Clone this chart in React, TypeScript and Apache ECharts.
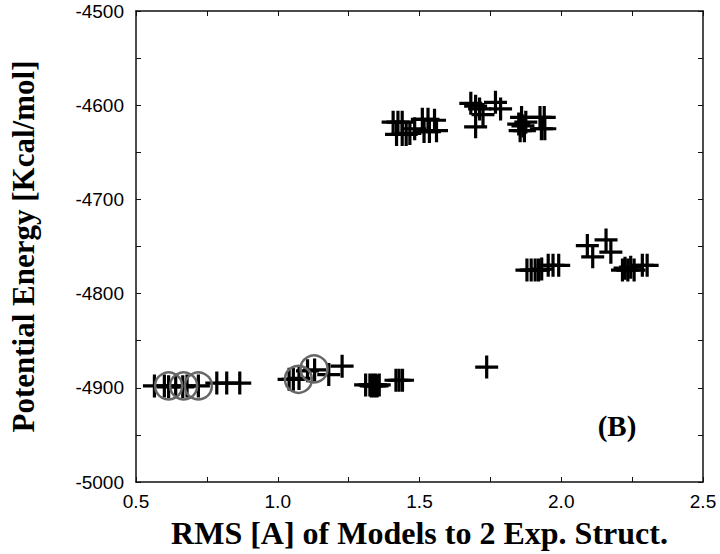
import React, { useEffect, useRef } from "react";
import * as echarts from "echarts";

// Clusters of models: [RMS, Potential Energy]
const clusterA: number[][] = [
  [0.565, -4898], [0.6, -4898], [0.615, -4899], [0.64, -4898], [0.665, -4899],
  [0.68, -4898], [0.72, -4898], [0.785, -4895], [0.82, -4895], [0.866, -4895],
];
const clusterB: number[][] = [
  [1.04, -4891], [1.055, -4891], [1.075, -4890], [1.105, -4882], [1.13, -4881],
  [1.18, -4886], [1.227, -4877],
];
const clusterC: number[][] = [
  [1.31, -4897], [1.325, -4897], [1.33, -4898], [1.335, -4897], [1.34, -4898],
  [1.345, -4897], [1.35, -4898], [1.358, -4897],
];
const clusterD: number[][] = [[1.417, -4892], [1.428, -4892], [1.44, -4892]];
const isolated: number[][] = [[1.737, -4878]];
const clusterE: number[][] = [
  [1.407, -4618], [1.424, -4618], [1.439, -4618], [1.419, -4631], [1.439, -4631],
  [1.453, -4631], [1.466, -4630], [1.483, -4625],
  [1.51, -4615], [1.53, -4615], [1.553, -4616], [1.516, -4628], [1.535, -4628], [1.56, -4627],
];
const clusterF: number[][] = [
  [1.681, -4598], [1.698, -4601], [1.712, -4604], [1.724, -4610], [1.698, -4623],
  [1.768, -4597], [1.786, -4604],
];
const clusterG: number[][] = [
  [1.85, -4620], [1.855, -4627], [1.86, -4613], [1.865, -4622], [1.87, -4627],
  [1.875, -4618], [1.925, -4613], [1.93, -4625], [1.94, -4613], [1.942, -4625],
];
const clusterH: number[][] = [
  [1.879, -4775], [1.894, -4775], [1.908, -4775], [1.92, -4775], [1.931, -4774],
  [1.954, -4770], [1.971, -4770], [1.991, -4770],
];
const clusterI: number[][] = [
  [2.092, -4749], [2.111, -4761], [2.158, -4743], [2.175, -4756],
];
const clusterJ: number[][] = [
  [2.216, -4775], [2.225, -4773], [2.235, -4775], [2.245, -4772], [2.257, -4775],
  [2.286, -4770], [2.303, -4770],
];
const circled: number[][] = [
  [0.615, -4898], [0.668, -4898], [0.72, -4898], [1.073, -4891], [1.128, -4880],
];

const xMin = 0.5, xMax = 2.5, xStep = 0.5;
const yMin = -5000, yMax = -4500, yStep = 100;

const crossPath = "path://M10,0L10,20M0,10L20,10";

export default function App() {
  const ref = useRef<HTMLDivElement>(null);
  useEffect(() => {
    if (!ref.current) return;
    const chart = echarts.init(ref.current, undefined, { renderer: "svg" });
    const axisLine = { lineStyle: { color: "#111", width: 1.5 } };
    const tick = { inside: true, length: 5, lineStyle: { color: "#111", width: 1 } };
    const minor = { show: true, splitNumber: 2, length: 5, lineStyle: { color: "#111", width: 1 } };
    const labelStyle = { fontSize: 19, fontFamily: "Liberation Sans", color: "#000" };
    const titleStyle = { fontFamily: "Liberation Serif", fontWeight: "bold" as const, color: "#000" };
    const crosses = [
      ...clusterA, ...clusterB, ...clusterC, ...clusterD, ...isolated,
      ...clusterE, ...clusterF, ...clusterG, ...clusterH, ...clusterI, ...clusterJ,
    ];
    chart.setOption({
      animation: false,
      backgroundColor: "#fff",
      grid: { left: 130, right: 17, top: 11, bottom: 61 },
      xAxis: [
        {
          type: "value", min: xMin, max: xMax, interval: xStep, position: "bottom",
          axisLine: { ...axisLine, onZero: false }, axisTick: tick, minorTick: minor,
          splitLine: { show: false },
          axisLabel: { ...labelStyle, margin: 10, formatter: (v: number) => v.toFixed(1) },
          name: "RMS [A] of Models to 2 Exp. Struct.", nameLocation: "middle", nameGap: 35,
          nameTextStyle: { ...titleStyle, fontSize: 32 },
        },
        {
          type: "value", min: xMin, max: xMax, interval: xStep, position: "top",
          axisLine: { ...axisLine, onZero: false }, axisTick: tick, minorTick: minor,
          splitLine: { show: false }, axisLabel: { show: false },
        },
      ],
      yAxis: [
        {
          type: "value", min: yMin, max: yMax, interval: yStep, position: "left",
          axisLine: { ...axisLine, onZero: false }, axisTick: tick, minorTick: minor,
          splitLine: { show: false },
          axisLabel: { ...labelStyle, margin: 12, formatter: (v: number) => String(v) },
          name: "Potential Energy [Kcal/mol]", nameLocation: "middle", nameGap: 97,
          nameTextStyle: { ...titleStyle, fontSize: 31 },
        },
        {
          type: "value", min: yMin, max: yMax, interval: yStep, position: "right",
          axisLine: { ...axisLine, onZero: false }, axisTick: tick, minorTick: minor,
          splitLine: { show: false }, axisLabel: { show: false },
        },
      ],
      series: [
        {
          type: "scatter", data: crosses, symbol: crossPath, symbolSize: 23,
          itemStyle: { color: "rgba(0,0,0,0)", borderColor: "#000", borderWidth: 3.2, opacity: 1 },
          emphasis: { disabled: true },
        },
        {
          type: "scatter", data: circled, symbol: "circle", symbolSize: 27,
          itemStyle: { color: "rgba(0,0,0,0)", borderColor: "#666", borderWidth: 2.5, opacity: 1 },
          emphasis: { disabled: true },
        },
      ],
      graphic: [
        {
          type: "text", x: 617, y: 426,
          style: {
            text: "(B)", fontSize: 29, fontFamily: "Liberation Serif", fontWeight: "bold",
            fill: "#000", align: "center", verticalAlign: "middle",
          },
        },
      ],
    });
    return () => chart.dispose();
  }, []);
  return <div ref={ref} style={{ width: 720, height: 554, position: "absolute", left: 0, top: 0 }} />;
}
